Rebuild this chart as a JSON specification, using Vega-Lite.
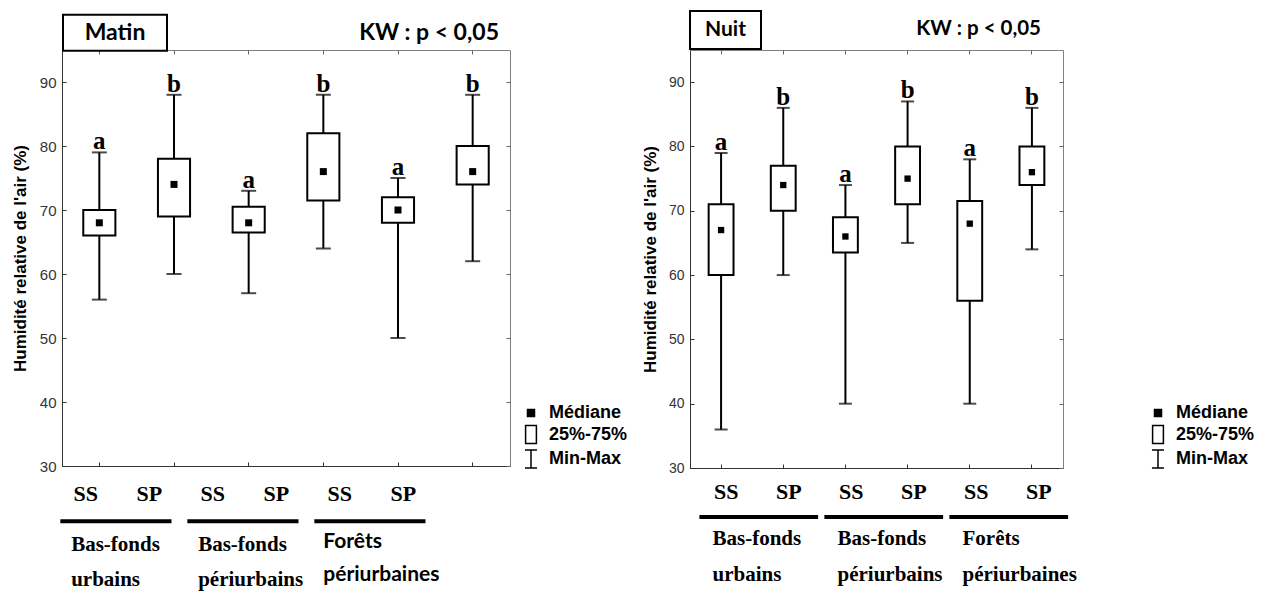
{
  "$schema": "https://vega.github.io/schema/vega-lite/v6.json",
  "background": "white",
  "padding": {"left": 10, "top": 6, "right": 5, "bottom": 5},
  "datasets": {
    "matin": [
      {"site": "BFU-SS", "type": "SS", "min": 56, "q1": 66, "med": 68, "q3": 70, "max": 79, "letter": "a"},
      {"site": "BFU-SP", "type": "SP", "min": 60, "q1": 69, "med": 74, "q3": 78, "max": 88, "letter": "b"},
      {"site": "BFP-SS", "type": "SS", "min": 57, "q1": 66.5, "med": 68, "q3": 70.5, "max": 73, "letter": "a"},
      {"site": "BFP-SP", "type": "SP", "min": 64, "q1": 71.5, "med": 76, "q3": 82, "max": 88, "letter": "b"},
      {"site": "FP-SS", "type": "SS", "min": 50, "q1": 68, "med": 70, "q3": 72, "max": 75, "letter": "a"},
      {"site": "FP-SP", "type": "SP", "min": 62, "q1": 74, "med": 76, "q3": 80, "max": 88, "letter": "b"}
    ],
    "nuit": [
      {"site": "BFU-SS", "type": "SS", "min": 36, "q1": 60, "med": 67, "q3": 71, "max": 79, "letter": "a"},
      {"site": "BFU-SP", "type": "SP", "min": 60, "q1": 70, "med": 74, "q3": 77, "max": 86, "letter": "b"},
      {"site": "BFP-SS", "type": "SS", "min": 40, "q1": 63.5, "med": 66, "q3": 69, "max": 74, "letter": "a"},
      {"site": "BFP-SP", "type": "SP", "min": 65, "q1": 71, "med": 75, "q3": 80, "max": 87, "letter": "b"},
      {"site": "FP-SS", "type": "SS", "min": 40, "q1": 56, "med": 68, "q3": 71.5, "max": 78, "letter": "a"},
      {"site": "FP-SP", "type": "SP", "min": 64, "q1": 74, "med": 76, "q3": 80, "max": 86, "letter": "b"}
    ],
    "groups": [
      {"site": "BFU-SS", "end": "BFU-SP", "label": "Bas-fonds\nurbains"},
      {"site": "BFP-SS", "end": "BFP-SP", "label": "Bas-fonds\npériurbains"},
      {"site": "FP-SS", "end": "FP-SP", "label": "Forêts\npériurbaines"}
    ],
    "legend": [{"stat": "Médiane"}, {"stat": "25%-75%"}, {"stat": "Min-Max"}],
    "titles": [
      {"panel": "Matin", "kw": "KW : p < 0,05"},
      {"panel": "Nuit", "kw": "KW : p < 0,05"}
    ]
  },
  "spacing": 11,
  "hconcat": [
    {
      "width": 448,
      "height": 416,
      "layer": [
        {
          "data": {"name": "matin"},
          "layer": [
            {
              "mark": {"type": "rule", "strokeWidth": 2, "color": "black"},
              "encoding": {
                "x": {"field": "site", "type": "nominal", "sort": null,
                  "scale": {"domain": ["BFU-SS", "BFU-SP", "BFP-SS", "BFP-SP", "FP-SS", "FP-SP"], "paddingInner": 0, "paddingOuter": 0},
                  "axis": {"orient": "bottom", "labels": false, "title": null, "tickSize": -4, "domainColor": "#333", "tickColor": "#333"}},
                "y": {"field": "min", "type": "quantitative",
                  "scale": {"domain": [30, 95], "nice": false, "zero": false},
                  "axis": {"orient": "left", "values": [30, 40, 50, 60, 70, 80, 90], "title": "Humidité relative de l'air (%)", "tickSize": -4, "labelFontSize": 15, "labelPadding": 10, "titleFontSize": 17, "titlePadding": 10, "domainColor": "#333", "tickColor": "#333"}},
                "y2": {"field": "max"}
              }
            },
            {
              "mark": {"type": "bar", "fill": "white", "stroke": "black", "strokeWidth": 2, "width": {"band": 0.43}},
              "encoding": {
                "x": {"field": "site", "type": "nominal", "sort": null, "axis": null},
                "y": {"field": "q1", "type": "quantitative", "axis": null},
                "y2": {"field": "q3"}
              }
            },
            {
              "mark": {"type": "tick", "color": "black", "thickness": 2, "size": 15},
              "encoding": {
                "x": {"field": "site", "type": "nominal", "sort": null, "axis": {"orient": "top", "labels": false, "domain": false, "title": null, "tickSize": -4, "tickColor": "#666"}},
                "y": {"field": "min", "type": "quantitative", "axis": {"orient": "right", "labels": false, "domain": false, "title": null, "values": [30, 40, 50, 60, 70, 80, 90], "tickSize": -4, "tickColor": "#666"}}
              }
            },
            {
              "mark": {"type": "tick", "color": "black", "thickness": 2, "size": 15},
              "encoding": {
                "x": {"field": "site", "type": "nominal", "sort": null, "axis": null},
                "y": {"field": "max", "type": "quantitative", "axis": null}
              }
            },
            {
              "mark": {"type": "point", "shape": "square", "filled": true, "color": "black", "size": 49, "opacity": 1},
              "encoding": {
                "x": {"field": "site", "type": "nominal", "sort": null, "axis": null},
                "y": {"field": "med", "type": "quantitative", "axis": null}
              }
            },
            {
              "mark": {"type": "text", "font": "Liberation Serif", "fontWeight": "bold", "fontSize": 25, "baseline": "alphabetic", "dy": -3, "color": "black"},
              "encoding": {
                "x": {"field": "site", "type": "nominal", "sort": null, "axis": null},
                "y": {"field": "max", "type": "quantitative", "axis": null},
                "text": {"field": "letter"}
              }
            }
          ],
          "resolve": {"axis": {"x": "independent", "y": "independent"}}
        },
        {
          "data": {"name": "titles"},
          "transform": [{"filter": "datum.panel == 'Matin'"}],
          "layer": [
            {
              "mark": {"type": "point", "shape": "M-1,-0.346H1V0.346H-1Z", "size": 10816, "filled": true, "fill": "white", "stroke": "black", "strokeWidth": 2, "opacity": 1},
              "encoding": {
                "x": {"datum": "BFU-SS", "type": "nominal",
                  "scale": {"domain": ["BFU-SS", "BFU-SP", "BFP-SS", "BFP-SP", "FP-SS", "FP-SP"], "range": [14.6, 475.4], "paddingInner": 0, "paddingOuter": 0}, "axis": null},
                "y": {"datum": 97.69, "type": "quantitative", "scale": {"domain": [30, 95], "nice": false, "zero": false}, "axis": null}
              }
            },
            {
              "mark": {"type": "text", "font": "Lato", "fontWeight": "bold", "fontSize": 23, "baseline": "middle", "color": "black"},
              "encoding": {
                "x": {"datum": "BFU-SS", "type": "nominal", "axis": null},
                "y": {"datum": 97.69, "type": "quantitative", "axis": null},
                "text": {"field": "panel"}
              }
            },
            {
              "mark": {"type": "text", "font": "Lato", "fontWeight": "bold", "fontSize": 23, "baseline": "middle", "align": "right", "color": "black"},
              "encoding": {
                "x": {"datum": "FP-SP", "type": "nominal", "axis": null},
                "y": {"datum": 97.6, "type": "quantitative", "axis": null},
                "text": {"field": "kw"}
              }
            }
          ]
        },
        {
          "layer": [
            {
              "data": {"name": "matin"},
              "mark": {"type": "text", "font": "Liberation Serif", "fontWeight": "bold", "fontSize": 22, "baseline": "middle", "color": "black"},
              "encoding": {
                "x": {"field": "site", "type": "nominal", "sort": null,
                  "scale": {"domain": ["BFU-SS", "BFU-SP", "BFP-SS", "BFP-SP", "FP-SS", "FP-SP"], "range": [-8, 373], "paddingInner": 0, "paddingOuter": 0}, "axis": null},
                "y": {"datum": 25.58, "type": "quantitative", "scale": {"domain": [30, 95], "nice": false, "zero": false}, "axis": null},
                "text": {"field": "type"}
              }
            },
            {
              "data": {"name": "groups"},
              "mark": {"type": "rule", "strokeWidth": 4, "color": "black"},
              "encoding": {
                "x": {"field": "site", "type": "nominal", "sort": null, "bandPosition": 0.1, "axis": null},
                "x2": {"field": "end", "bandPosition": 0.85},
                "y": {"datum": 21.36, "type": "quantitative", "axis": null}
              }
            },
            {
              "data": {"name": "groups"},
              "transform": [{"filter": "datum.site != 'FP-SS'"}],
              "mark": {"type": "text", "font": "Liberation Serif", "fontWeight": "bold", "fontSize": 21, "align": "left", "baseline": "top", "lineBreak": "\n", "lineHeight": 35, "color": "black"},
              "encoding": {
                "x": {"field": "site", "type": "nominal", "sort": null, "bandPosition": 0.27, "axis": null},
                "y": {"datum": 19.33, "type": "quantitative", "axis": null},
                "text": {"field": "label"}
              }
            },
            {
              "data": {"name": "groups"},
              "transform": [{"filter": "datum.site == 'FP-SS'"}],
              "mark": {"type": "text", "font": "Lato", "fontWeight": "bold", "fontSize": 21, "align": "left", "baseline": "top", "lineBreak": "\n", "lineHeight": 33, "color": "black"},
              "encoding": {
                "x": {"field": "site", "type": "nominal", "sort": null, "bandPosition": 0.24, "axis": null},
                "y": {"datum": 19.82, "type": "quantitative", "axis": null},
                "text": {"field": "label"}
              }
            }
          ]
        },
        {
          "data": {"name": "legend"},
          "transform": [{"filter": "datum.stat == 'none'"}],
          "mark": {"type": "point", "filled": true, "strokeWidth": 1.5, "opacity": 1},
          "encoding": {
            "shape": {"field": "stat", "type": "nominal",
              "scale": {"domain": ["Médiane", "25%-75%", "Min-Max"], "range": ["M-0.39,-0.39H0.39V0.39H-0.39Z", "M-0.6,-1H0.6V1H-0.6Z", "M-0.67,-1H0.67M0,-1V1M-0.67,1H0.67"]},
              "legend": {"orient": "none", "legendX": 459, "legendY": 353, "title": null, "labelFont": "Liberation Sans", "labelFontWeight": "bold", "labelFontSize": 18, "labelColor": "black", "symbolSize": 324, "symbolStrokeWidth": 1.5, "symbolStrokeColor": "black", "symbolOpacity": 1, "rowPadding": 0.5, "labelOffset": 8}},
            "fill": {"field": "stat", "type": "nominal",
              "scale": {"domain": ["Médiane", "25%-75%", "Min-Max"], "range": ["black", "white", "white"]},
              "legend": {"orient": "none", "legendX": 459, "legendY": 353, "title": null}},
            "stroke": {"field": "stat", "type": "nominal",
              "scale": {"domain": ["Médiane", "25%-75%", "Min-Max"], "range": ["black", "black", "black"]},
              "legend": {"orient": "none", "legendX": 459, "legendY": 353, "title": null}}
          }
        }
      ],
      "resolve": {"scale": {"x": "independent"}}
    },
    {
      "width": 373,
      "height": 418,
      "layer": [
        {
          "data": {"name": "nuit"},
          "layer": [
            {
              "mark": {"type": "rule", "strokeWidth": 2, "color": "black"},
              "encoding": {
                "x": {"field": "site", "type": "nominal", "sort": null,
                  "scale": {"domain": ["BFU-SS", "BFU-SP", "BFP-SS", "BFP-SP", "FP-SS", "FP-SP"], "paddingInner": 0, "paddingOuter": 0},
                  "axis": {"orient": "bottom", "labels": false, "title": null, "tickSize": -4, "domainColor": "#333", "tickColor": "#333"}},
                "y": {"field": "min", "type": "quantitative",
                  "scale": {"domain": [30, 95], "nice": false, "zero": false},
                  "axis": {"orient": "left", "values": [30, 40, 50, 60, 70, 80, 90], "title": "Humidité relative de l'air (%)", "tickSize": -4, "labelFontSize": 14, "labelPadding": 10, "titleFontSize": 17, "titlePadding": 9, "domainColor": "#333", "tickColor": "#333"}},
                "y2": {"field": "max"}
              }
            },
            {
              "mark": {"type": "bar", "fill": "white", "stroke": "black", "strokeWidth": 2, "width": {"band": 0.4}},
              "encoding": {
                "x": {"field": "site", "type": "nominal", "sort": null, "axis": null},
                "y": {"field": "q1", "type": "quantitative", "axis": null},
                "y2": {"field": "q3"}
              }
            },
            {
              "mark": {"type": "tick", "color": "black", "thickness": 2, "size": 13},
              "encoding": {
                "x": {"field": "site", "type": "nominal", "sort": null, "axis": {"orient": "top", "labels": false, "domain": false, "title": null, "tickSize": -4, "tickColor": "#666"}},
                "y": {"field": "min", "type": "quantitative", "axis": {"orient": "right", "labels": false, "domain": false, "title": null, "values": [30, 40, 50, 60, 70, 80, 90], "tickSize": -4, "tickColor": "#666"}}
              }
            },
            {
              "mark": {"type": "tick", "color": "black", "thickness": 2, "size": 13},
              "encoding": {
                "x": {"field": "site", "type": "nominal", "sort": null, "axis": null},
                "y": {"field": "max", "type": "quantitative", "axis": null}
              }
            },
            {
              "mark": {"type": "point", "shape": "square", "filled": true, "color": "black", "size": 40, "opacity": 1},
              "encoding": {
                "x": {"field": "site", "type": "nominal", "sort": null, "axis": null},
                "y": {"field": "med", "type": "quantitative", "axis": null}
              }
            },
            {
              "mark": {"type": "text", "font": "Liberation Serif", "fontWeight": "bold", "fontSize": 25, "baseline": "alphabetic", "dy": -3, "color": "black"},
              "encoding": {
                "x": {"field": "site", "type": "nominal", "sort": null, "axis": null},
                "y": {"field": "max", "type": "quantitative", "axis": null},
                "text": {"field": "letter"}
              }
            }
          ],
          "resolve": {"axis": {"x": "independent", "y": "independent"}}
        },
        {
          "data": {"name": "titles"},
          "transform": [{"filter": "datum.panel == 'Nuit'"}],
          "layer": [
            {
              "mark": {"type": "point", "shape": "M-1,-0.535H1V0.535H-1Z", "size": 5041, "filled": true, "fill": "white", "stroke": "black", "strokeWidth": 2, "opacity": 1},
              "encoding": {
                "x": {"datum": "BFU-SS", "type": "nominal",
                  "scale": {"domain": ["BFU-SS", "BFU-SP", "BFP-SS", "BFP-SP", "FP-SS", "FP-SP"], "range": [3.95, 382.55], "paddingInner": 0, "paddingOuter": 0}, "axis": null},
                "y": {"datum": 98.1, "type": "quantitative", "scale": {"domain": [30, 95], "nice": false, "zero": false}, "axis": null}
              }
            },
            {
              "mark": {"type": "text", "font": "Lato", "fontWeight": "bold", "fontSize": 21, "baseline": "middle", "color": "black"},
              "encoding": {
                "x": {"datum": "BFU-SS", "type": "nominal", "axis": null},
                "y": {"datum": 98.1, "type": "quantitative", "axis": null},
                "text": {"field": "panel"}
              }
            },
            {
              "mark": {"type": "text", "font": "Lato", "fontWeight": "bold", "fontSize": 20.5, "baseline": "middle", "align": "right", "color": "black"},
              "encoding": {
                "x": {"datum": "FP-SP", "type": "nominal", "axis": null},
                "y": {"datum": 98.27, "type": "quantitative", "axis": null},
                "text": {"field": "kw"}
              }
            }
          ]
        },
        {
          "layer": [
            {
              "data": {"name": "nuit"},
              "mark": {"type": "text", "font": "Liberation Serif", "fontWeight": "bold", "fontSize": 22, "baseline": "middle", "color": "black"},
              "encoding": {
                "x": {"field": "site", "type": "nominal", "sort": null,
                  "scale": {"domain": ["BFU-SS", "BFU-SP", "BFP-SS", "BFP-SP", "FP-SS", "FP-SP"], "range": [5, 380], "paddingInner": 0, "paddingOuter": 0}, "axis": null},
                "y": {"datum": 26.27, "type": "quantitative", "scale": {"domain": [30, 95], "nice": false, "zero": false}, "axis": null},
                "text": {"field": "type"}
              }
            },
            {
              "data": {"name": "groups"},
              "mark": {"type": "rule", "strokeWidth": 4, "color": "black"},
              "encoding": {
                "x": {"field": "site", "type": "nominal", "sort": null, "bandPosition": 0.07, "axis": null},
                "x2": {"field": "end", "bandPosition": 0.97},
                "y": {"datum": 22.38, "type": "quantitative", "axis": null}
              }
            },
            {
              "data": {"name": "groups"},
              "mark": {"type": "text", "font": "Liberation Serif", "fontWeight": "bold", "fontSize": 21, "align": "left", "baseline": "top", "lineBreak": "\n", "lineHeight": 36, "color": "black"},
              "encoding": {
                "x": {"field": "site", "type": "nominal", "sort": null, "bandPosition": 0.28, "axis": null},
                "y": {"datum": 20.67, "type": "quantitative", "axis": null},
                "text": {"field": "label"}
              }
            }
          ]
        },
        {
          "data": {"name": "legend"},
          "transform": [{"filter": "datum.stat == 'none'"}],
          "mark": {"type": "point", "filled": true, "strokeWidth": 1.5, "opacity": 1},
          "encoding": {
            "shape": {"field": "stat", "type": "nominal",
              "scale": {"domain": ["Médiane", "25%-75%", "Min-Max"], "range": ["M-0.39,-0.39H0.39V0.39H-0.39Z", "M-0.6,-1H0.6V1H-0.6Z", "M-0.67,-1H0.67M0,-1V1M-0.67,1H0.67"]},
              "legend": {"orient": "none", "legendX": 458, "legendY": 353, "title": null, "labelFont": "Liberation Sans", "labelFontWeight": "bold", "labelFontSize": 18, "labelColor": "black", "symbolSize": 324, "symbolStrokeWidth": 1.5, "symbolStrokeColor": "black", "symbolOpacity": 1, "rowPadding": 0.5, "labelOffset": 8}},
            "fill": {"field": "stat", "type": "nominal",
              "scale": {"domain": ["Médiane", "25%-75%", "Min-Max"], "range": ["black", "white", "white"]},
              "legend": {"orient": "none", "legendX": 458, "legendY": 353, "title": null}},
            "stroke": {"field": "stat", "type": "nominal",
              "scale": {"domain": ["Médiane", "25%-75%", "Min-Max"], "range": ["black", "black", "black"]},
              "legend": {"orient": "none", "legendX": 458, "legendY": 353, "title": null}}
          }
        }
      ],
      "resolve": {"scale": {"x": "independent"}}
    }
  ],
  "resolve": {
    "scale": {"x": "independent", "y": "independent", "shape": "independent", "fill": "independent", "stroke": "independent"},
    "legend": {"shape": "independent", "fill": "independent", "stroke": "independent"}
  },
  "config": {
    "view": {"stroke": "#808080", "strokeWidth": 1},
    "axis": {"labelFont": "Liberation Sans", "labelColor": "#333", "titleFont": "Liberation Sans", "titleFontWeight": "bold", "titleColor": "black", "grid": false}
  }
}
